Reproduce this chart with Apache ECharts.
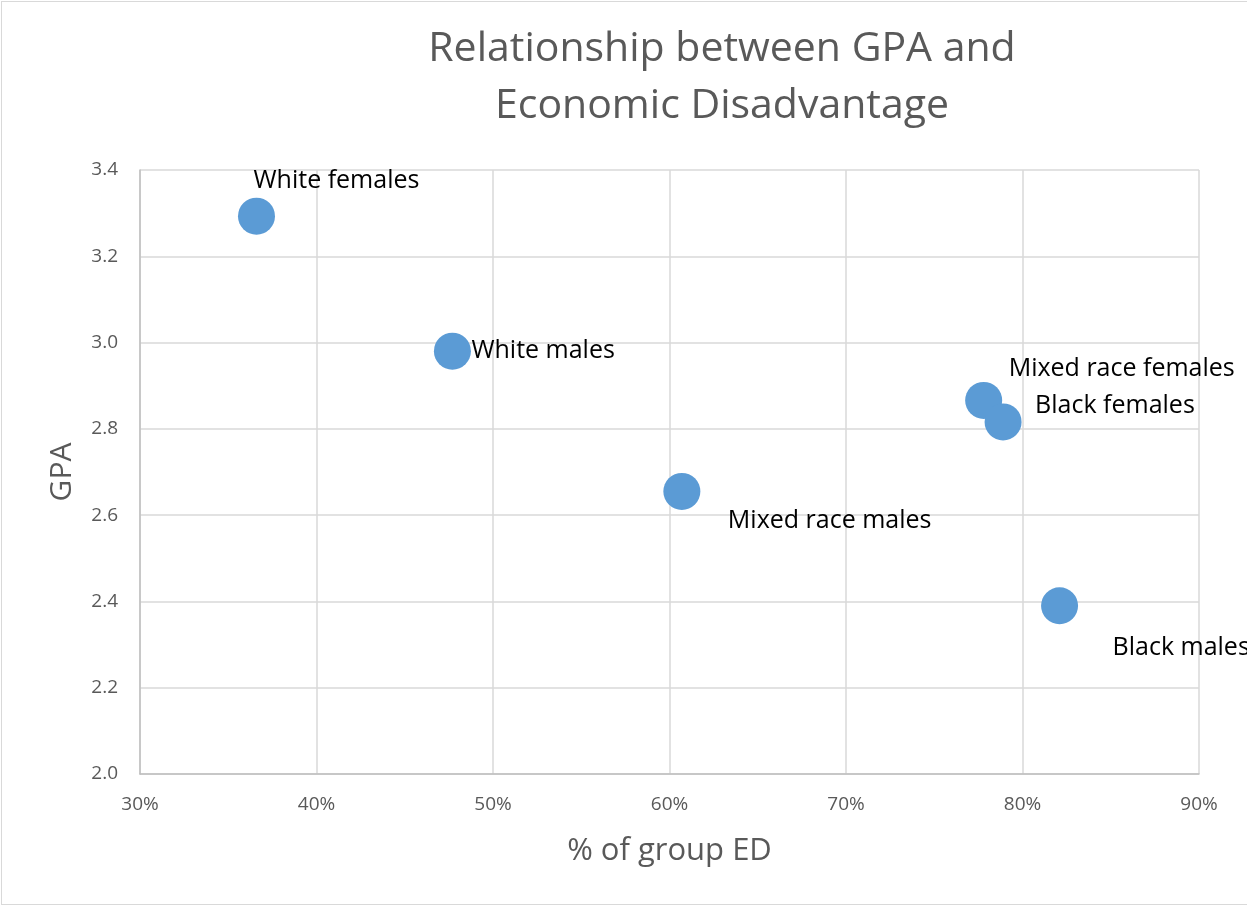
<!DOCTYPE html>
<html>
<head>
<meta charset="UTF-8">
<title>GPA vs ED</title>
<script src="https://cdn.jsdelivr.net/npm/echarts@6/dist/echarts.min.js"></script>
<style>
  html, body { margin: 0; padding: 0; background: #fff; }
  #wrap { width: 1247px; height: 907px; overflow: hidden; position: relative; }
  #frame { position: absolute; left: 1px; top: 1px; width: 1300px; height: 904px;
           border: 1px solid #d9d9d9; box-sizing: border-box; }
  #main { position: absolute; left: 0; top: 0; width: 1247px; height: 907px; }
</style>
</head>
<body>
<div id="wrap">
  <div id="frame"></div>
  <div id="main"></div>
</div>
<script>
// data
var groups = ['White females', 'White males', 'Mixed race males', 'Mixed race females', 'Black females', 'Black males'];
var pctED = [36.6, 47.7, 60.7, 77.8, 78.9, 82.1];
var gpa = [3.293, 2.98, 2.655, 2.866, 2.816, 2.39];
// where each label sits relative to its point
var labelOffsets = [[-3, -35], [19, 0], [46, 29], [25, -32], [32, -16], [53, 42]];

var font = '"Open Sans", "DejaVu Sans", sans-serif';
var points = [];
for (var i = 0; i < groups.length; i++) {
    points.push({
        name: groups[i],
        value: [pctED[i], gpa[i]],
        label: { offset: labelOffsets[i] }
    });
}

var myChart = echarts.init(document.getElementById('main'), null, { renderer: 'canvas' });
var option = {
    backgroundColor: 'transparent',
    animation: false,
    title: {
        text: 'Relationship between GPA and\nEconomic Disadvantage',
        left: 717,
        textAlign: 'center',
        top: 16,
        textStyle: { fontFamily: font, fontSize: 41, fontWeight: 'normal', color: '#595959', lineHeight: 57 }
    },
    grid: { left: 140, right: 48, top: 170, bottom: 133, containLabel: false },
    xAxis: {
        type: 'value', min: 30, max: 90, interval: 10,
        name: '% of group ED', nameLocation: 'middle', nameGap: 62,
        nameTextStyle: { fontFamily: font, fontSize: 31, color: '#595959' },
        axisLine: { show: true, lineStyle: { color: '#bfbfbf', width: 1.5 } },
        axisTick: { show: false },
        splitLine: { show: true, lineStyle: { color: '#d9d9d9', width: 1.5 } },
        axisLabel: { formatter: '{value}%', margin: 21, fontFamily: font, fontSize: 19, color: '#595959' }
    },
    yAxis: {
        type: 'value', min: 2, max: 3.4, interval: 0.2,
        name: 'GPA', nameLocation: 'middle', nameGap: 63, nameRotate: 90,
        nameTextStyle: { fontFamily: font, fontSize: 30, color: '#595959' },
        axisLine: { show: true, lineStyle: { color: '#bfbfbf', width: 1.5 } },
        axisTick: { show: false },
        splitLine: { show: true, lineStyle: { color: '#d9d9d9', width: 1.5 } },
        axisLabel: { formatter: function (v) { return v.toFixed(1); }, margin: 22, fontFamily: font, fontSize: 19, color: '#595959' }
    },
    series: [{
        type: 'scatter',
        symbolSize: 37,
        itemStyle: { color: '#5b9bd5', opacity: 1 },
        label: {
            show: true,
            position: 'inside',
            align: 'left',
            verticalAlign: 'middle',
            formatter: '{b}',
            fontFamily: font,
            fontSize: 25,
            color: '#000'
        },
        data: points
    }]
};
myChart.setOption(option);
</script>
</body>
</html>
